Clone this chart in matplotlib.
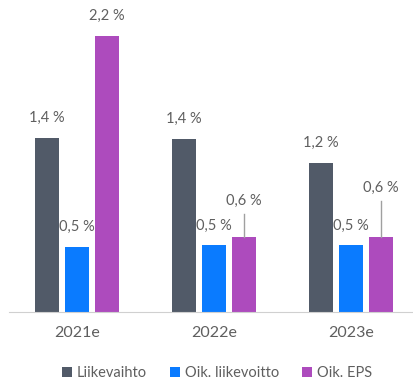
import matplotlib.pyplot as plt
import numpy as np

plt.rcParams['font.family'] = ['Lato', 'DejaVu Sans']

years = ['2021e', '2022e', '2023e']
series_names = ['Liikevaihto', 'Oik. liikevoitto', 'Oik. EPS']
liikevaihto = [1.39, 1.38, 1.19]
liikevoitto = [0.52, 0.53, 0.53]
eps = [2.2, 0.6, 0.6]
labels = [['1,4 %', '1,4 %', '1,2 %'],
          ['0,5 %', '0,5 %', '0,5 %'],
          ['2,2 %', '0,6 %', '0,6 %']]

colors = ['#515a68', '#0a7bff', '#ad4bbd']
txt_col = '#5f5f5f'

W, H = 414, 381
fig = plt.figure(figsize=(W / 100, H / 100), dpi=100)
ax = fig.add_axes([8.5 / W, (H - 312) / H, 411 / W, 312 / H])

ymax = 312 / 125.5
px = ymax / 312  # data units per pixel
x = np.arange(len(years))
width = 0.172
offs = [-0.219, 0, 0.219]
data = [liikevaihto, liikevoitto, eps]

for i, vals in enumerate(data):
    ax.bar(x + offs[i], vals, width, color=colors[i], label=series_names[i])

# label lift above bar top in pixels (EPS labels pulled up with leader line)
lift = [[20, 20, 20], [20, 20, 20], [20, 36, 49]]
for i, vals in enumerate(data):
    for j, v in enumerate(vals):
        ly = v + lift[i][j] * px
        ax.text(x[j] + offs[i], ly, labels[i][j], ha='center', va='center',
                fontsize=10.5, color=txt_col)
        if lift[i][j] > 25:
            ax.plot([x[j] + offs[i]] * 2, [v, ly - 13 * px], color='#a0a0a0', lw=1)

ax.set_xlim(-0.5, 2.5)
ax.set_ylim(0, ymax)
ax.set_xticks(x)
ax.set_xticklabels(years, fontsize=11.5, color=txt_col)
ax.tick_params(axis='x', length=0, pad=10)
ax.set_yticks([])
for s in ['top', 'right', 'left']:
    ax.spines[s].set_visible(False)
ax.spines['bottom'].set_color('#d0d0d0')

fig.legend(loc='center', bbox_to_anchor=(217 / W, 1 - 373 / H), ncol=3,
           frameon=False, handlelength=0.7, handleheight=0.7, handletextpad=0.3,
           columnspacing=1.6, fontsize=10.5, labelcolor=txt_col)

fig.savefig('out.png', dpi=100)
